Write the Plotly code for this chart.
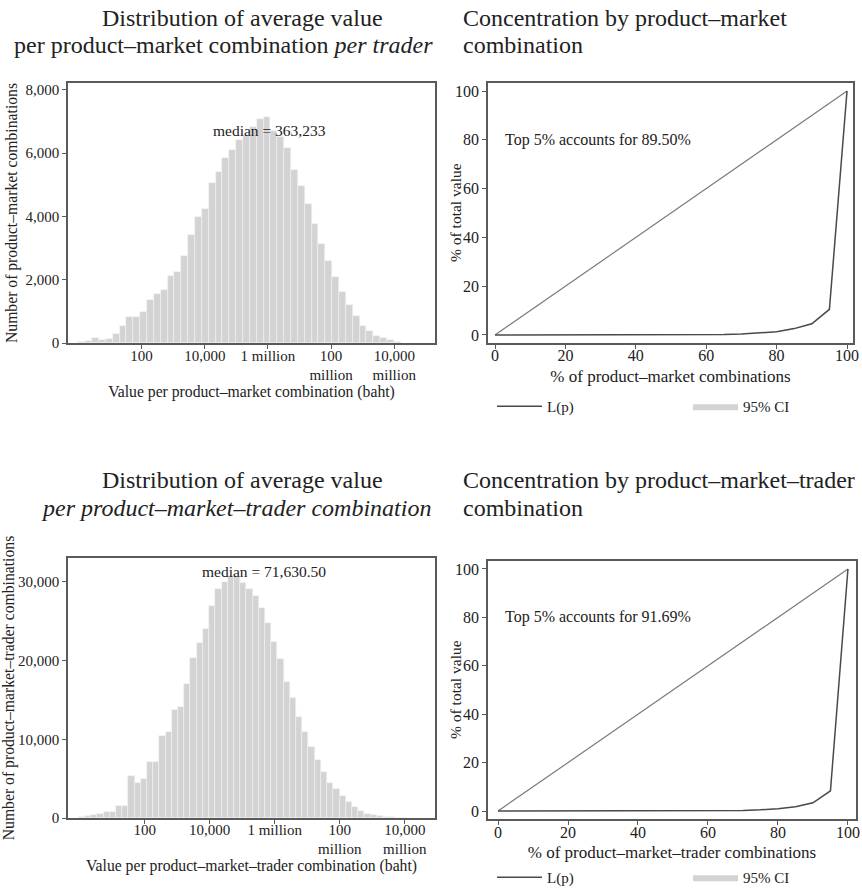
import math
import plotly.graph_objects as go

# ---------------- data ----------------
# Histogram 1: counts per bin of ln(value), bins of 0.5 ln-units starting at ln = 0
hist1_counts = [40, 50, 150, 110, 120, 300, 550, 820, 820, 990, 1360, 1560, 1690, 2110,
                2260, 2740, 3400, 3970, 4250, 5060, 5400, 5850, 6110, 6410, 6560, 6840,
                7090, 7140, 6690, 6500, 6160, 5470, 4970, 4390, 3770, 3140, 2580, 2080,
                1610, 1190, 840, 550, 370, 230, 160, 80, 40]
hist1_start_ln = 0.0
hist1_width_ln = 0.5
hist1_median = "median = 363,233"

# Histogram 2: counts per bin, bin edges in log10 units
hist2_counts = [170, 250, 380, 560, 700, 800, 1560, 1480, 5320, 4390, 4980, 7090, 7090,
                10380, 10930, 13670, 14090, 17050, 20400, 22200, 23970, 26920, 29060,
                30000, 30730, 30650, 29890, 29050, 28210, 26730, 24800, 22400, 20200,
                17340, 15250, 12800, 10900, 8970, 7370, 5810, 4510, 3660, 2740, 1980,
                1390, 840, 550, 340, 210, 130, 80, 40, 20]
hist2_start_log10 = -0.03
hist2_width_log10 = 0.191
hist2_median = "median = 71,630.50"

value_tickvals = [2, 4, 6, 8, 10]
value_ticktext = ["100", "10,000", "1 million", "100<br>million", "10,000<br>million"]

# Lorenz curves
lorenz_p = [0, 5, 10, 15, 20, 25, 30, 35, 40, 45, 50, 55, 60, 65, 70, 75, 80, 85, 90, 95, 100]
lorenz1 = [0, 0, 0, 0, 0, 0, 0, 0, 0, 0.01, 0.02, 0.05, 0.1, 0.2, 0.4, 0.7, 1.3, 2.6, 4.6, 10.5, 100]
lorenz1_lo = [0, 0, 0, 0, 0, 0, 0, 0, 0, 0.01, 0.02, 0.04, 0.09, 0.18, 0.37, 0.65, 1.2, 2.4, 4.3, 10.0, 100]
lorenz1_hi = [0, 0, 0, 0, 0, 0, 0, 0, 0, 0.01, 0.03, 0.06, 0.11, 0.22, 0.43, 0.75, 1.4, 2.8, 4.9, 11.0, 100]
lorenz2 = [0, 0, 0, 0, 0, 0, 0, 0, 0, 0, 0.01, 0.03, 0.06, 0.12, 0.25, 0.5, 0.95, 1.75, 3.4, 8.31, 100]
lorenz2_lo = [0, 0, 0, 0, 0, 0, 0, 0, 0, 0, 0.01, 0.02, 0.05, 0.11, 0.23, 0.47, 0.9, 1.65, 3.2, 7.9, 100]
lorenz2_hi = [0, 0, 0, 0, 0, 0, 0, 0, 0, 0, 0.01, 0.04, 0.07, 0.13, 0.27, 0.53, 1.0, 1.85, 3.6, 8.7, 100]
equality = [0, 100]
top1_text = "Top 5% accounts for 89.50%"
top2_text = "Top 5% accounts for 91.69%"

# ---------------- styling ----------------
FONT = "Liberation Serif, Times New Roman, serif"
TXT = "#222222"
AX = "#5a5a5a"
BAR = "#d3d3d3"
W, H = 862, 888


def px_x(a, b):
    return [a / W, b / W]


def px_y(top, bottom):
    return [1 - bottom / H, 1 - top / H]


fig = go.Figure()

# histogram 1
ln10 = math.log(10)
h1_x = [(hist1_start_ln + (i + 0.5) * hist1_width_ln) / ln10 for i in range(len(hist1_counts))]
fig.add_trace(go.Bar(x=h1_x, y=hist1_counts, width=hist1_width_ln / ln10,
                     marker=dict(color=BAR, line=dict(color="#f4f4f4", width=0.6)),
                     xaxis="x", yaxis="y", showlegend=False))
# histogram 2
h2_x = [hist2_start_log10 + (i + 0.5) * hist2_width_log10 for i in range(len(hist2_counts))]
fig.add_trace(go.Bar(x=h2_x, y=hist2_counts, width=hist2_width_log10,
                     marker=dict(color=BAR, line=dict(color="#f4f4f4", width=0.6)),
                     xaxis="x3", yaxis="y3", showlegend=False))


def lorenz(xa, ya, lo, hi, mid, legend):
    fig.add_trace(go.Scatter(x=lorenz_p, y=lo, mode="lines", line=dict(width=0, color=BAR),
                             xaxis=xa, yaxis=ya, showlegend=False, hoverinfo="skip"))
    fig.add_trace(go.Scatter(x=lorenz_p, y=hi, mode="lines", line=dict(width=0, color=BAR),
                             fill="tonexty", fillcolor=BAR, name="95% CI",
                             xaxis=xa, yaxis=ya, legend=legend, legendrank=2))
    fig.add_trace(go.Scatter(x=equality, y=equality, mode="lines",
                             line=dict(color="#7a7a7a", width=1.2),
                             xaxis=xa, yaxis=ya, showlegend=False))
    fig.add_trace(go.Scatter(x=lorenz_p, y=mid, mode="lines", name="L(p)",
                             line=dict(color="#4a4a4a", width=1.5),
                             xaxis=xa, yaxis=ya, legend=legend, legendrank=1))


lorenz("x2", "y2", lorenz1_lo, lorenz1_hi, lorenz1, "legend")
lorenz("x4", "y4", lorenz2_lo, lorenz2_hi, lorenz2, "legend2")

axis_common = dict(showline=True, mirror=True, linecolor=AX, linewidth=1.5,
                   ticks="outside", ticklen=4, tickcolor=AX, showgrid=False,
                   zeroline=False, color=TXT, automargin=False)

left_tick_font = dict(family=FONT, size=15, color=TXT)
left_title_font = dict(family=FONT, size=15.7, color=TXT)
right_tick_font = dict(family=FONT, size=16, color=TXT)
right_xtitle_font = dict(family=FONT, size=17, color=TXT)
right_ytitle_font = dict(family=FONT, size=15.5, color=TXT)

fig.update_layout(
    template="none",
    width=W, height=H, margin=dict(l=0, r=0, t=0, b=0, autoexpand=False),
    paper_bgcolor="white", plot_bgcolor="white",
    font=dict(family=FONT, color=TXT),
    bargap=0,
    xaxis=dict(axis_common, domain=px_x(68, 435), range=[-0.33, 11.29], anchor="y",
               tickvals=value_tickvals, ticktext=value_ticktext, tickfont=left_tick_font,
               ticklabelstandoff=-6,
               title=dict(text="Value per product\u2013market combination (baht)",
                          font=left_title_font, standoff=2)),
    yaxis=dict(axis_common, domain=px_y(83, 343), range=[0, 8221], anchor="x",
               tickvals=[0, 2000, 4000, 6000, 8000], tickformat=",", tickfont=left_tick_font,
               title=dict(text="Number of product\u2013market combinations",
                          font=left_title_font, standoff=4)),
    xaxis2=dict(axis_common, domain=px_x(488, 853), range=[-2, 101.7], anchor="y2",
                tickvals=[0, 20, 40, 60, 80, 100], tickfont=right_tick_font,
                ticklabelstandoff=-7,
                title=dict(text="% of product\u2013market combinations",
                           font=right_xtitle_font, standoff=7)),
    yaxis2=dict(axis_common, domain=px_y(83, 343), range=[-3.3, 103.3], anchor="x2",
                tickvals=[0, 20, 40, 60, 80, 100], tickfont=right_tick_font),
    xaxis3=dict(axis_common, domain=px_x(68, 435), range=[-0.36, 10.93], anchor="y3",
                tickvals=value_tickvals, ticktext=value_ticktext, tickfont=left_tick_font,
                ticklabelstandoff=-7,
                title=dict(text="Value per product\u2013market\u2013trader combination (baht)",
                           font=left_title_font, standoff=2)),
    yaxis3=dict(axis_common, domain=px_y(558, 818), range=[0, 33050], anchor="x3",
                tickvals=[0, 10000, 20000, 30000], tickformat=",", tickfont=left_tick_font,
                title=dict(text="Number of product\u2013market\u2013trader combinations",
                           font=left_title_font, standoff=4)),
    xaxis4=dict(axis_common, domain=px_x(488, 856), range=[-2.86, 102.3], anchor="y4",
                tickvals=[0, 20, 40, 60, 80, 100], tickfont=right_tick_font,
                ticklabelstandoff=-6,
                title=dict(text="% of product\u2013market\u2013trader combinations",
                           font=right_xtitle_font, standoff=6)),
    yaxis4=dict(axis_common, domain=px_y(561, 819), range=[-3.3, 103.3], anchor="x4",
                tickvals=[0, 20, 40, 60, 80, 100], tickfont=right_tick_font),
    legend=dict(orientation="h", x=492 / W, y=1 - 390 / H, xanchor="left", yanchor="top",
                font=dict(family=FONT, size=15, color=TXT), entrywidth=136,
                itemwidth=45, bgcolor="rgba(0,0,0,0)", traceorder="normal"),
    legend2=dict(orientation="h", x=492 / W, y=1 - 861 / H, xanchor="left", yanchor="top",
                 font=dict(family=FONT, size=15, color=TXT), entrywidth=136,
                 itemwidth=45, bgcolor="rgba(0,0,0,0)", traceorder="normal"),
)

title_font = dict(family=FONT, size=24, color=TXT)
ann = [
    dict(text="Distribution of average value", x=243 / W, y=1 - 18 / H),
    dict(text="per product\u2013market combination <i>per trader</i>", x=223 / W, y=1 - 45 / H),
    dict(text="Distribution of average value", x=243 / W, y=1 - 480 / H),
    dict(text="<i>per product\u2013market\u2013trader combination</i>", x=236 / W, y=1 - 508 / H),
]
for a in ann:
    fig.add_annotation(text=a["text"], x=a["x"], y=a["y"], xref="paper", yref="paper",
                       xanchor="center", yanchor="middle", showarrow=False, font=title_font)
for txt, yy in [("Concentration by product\u2013market", 18), ("combination", 45),
                ("Concentration by product\u2013market\u2013trader", 480), ("combination", 508)]:
    fig.add_annotation(text=txt, x=461 / W, y=1 - yy / H, xref="paper", yref="paper",
                       xanchor="left", yanchor="middle", showarrow=False, font=title_font)

# y-axis titles of the concentration panels
for yy in [(83 + 343) / 2, (561 + 819) / 2]:
    fig.add_annotation(text="% of total value", x=455 / W, y=1 - yy / H, xref="paper",
                       yref="paper", textangle=-90, xanchor="center", yanchor="middle",
                       showarrow=False, font=right_ytitle_font)

small_font = dict(family=FONT, size=15.5, color=TXT)
fig.add_annotation(text=hist1_median, x=6.06, y=6735, xref="x", yref="y",
                   showarrow=False, font=small_font, xanchor="center", yanchor="middle")
fig.add_annotation(text=hist2_median, x=5.66, y=31360, xref="x3", yref="y3",
                   showarrow=False, font=small_font, xanchor="center", yanchor="middle")
fig.add_annotation(text=top1_text, x=2.3, y=80, xref="x2", yref="y2",
                   showarrow=False, font=dict(family=FONT, size=16, color=TXT),
                   xanchor="left", yanchor="middle")
fig.add_annotation(text=top2_text, x=1.5, y=80, xref="x4", yref="y4",
                   showarrow=False, font=dict(family=FONT, size=16, color=TXT),
                   xanchor="left", yanchor="middle")

fig.write_html("out.html")
